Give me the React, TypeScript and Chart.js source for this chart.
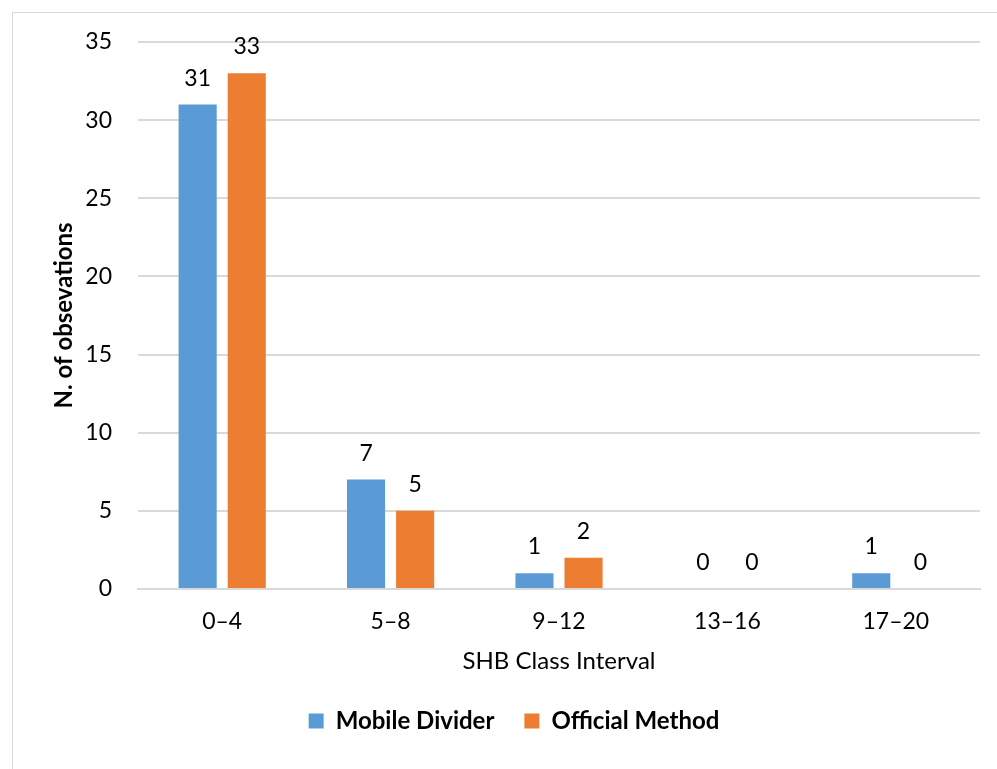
import { useEffect, useRef } from 'react';
import { Chart, registerables } from 'chart.js';

Chart.register(...registerables);

const categories = ['0–4', '5–8', '9–12', '13–16', '17–20'];
const mobileDivider = [31, 7, 1, 0, 1];
const officialMethod = [33, 5, 2, 0, 0];
const seriesNames = ['Mobile Divider', 'Official Method'];
const yMin = 0;
const yMax = 35;
const yStep = 5;
const xTitle = 'SHB Class Interval';
const yTitle = 'N. of obsevations';

const FONT = 'Lato, "Open Sans", sans-serif';

const barLabels = {
  id: 'barLabels',
  afterDatasetsDraw(chart: any) {
    const ctx = chart.ctx;
    ctx.save();
    ctx.font = `23px ${FONT}`;
    ctx.fillStyle = '#000';
    ctx.textAlign = 'center';
    ctx.textBaseline = 'alphabetic';
    chart.data.datasets.forEach((ds: any, i: number) => {
      const meta = chart.getDatasetMeta(i);
      meta.data.forEach((el: any, j: number) => {
        ctx.fillText(String(ds.data[j]), el.x, el.y - 19);
      });
    });
    ctx.restore();
  },
};

export default function App() {
  const ref = useRef<HTMLCanvasElement>(null);
  useEffect(() => {
    if (!ref.current) return;
    const chart = new Chart(ref.current, {
      type: 'bar',
      data: {
        labels: categories,
        datasets: [
          {
            label: seriesNames[0],
            data: mobileDivider,
            backgroundColor: '#5B9BD5',
            categoryPercentage: 0.583,
            barPercentage: 0.776,
          },
          {
            label: seriesNames[1],
            data: officialMethod,
            backgroundColor: '#ED7D31',
            categoryPercentage: 0.583,
            barPercentage: 0.776,
          },
        ],
      },
      options: {
        responsive: false,
        animation: false,
        layout: { padding: { left: 48, right: 17, top: 42, bottom: 26 } },
        plugins: {
          legend: {
            position: 'bottom',
            labels: {
              boxWidth: 15,
              boxHeight: 15,
              padding: 30,
              color: '#000',
              font: { family: FONT, size: 24, weight: 'bold' },
            },
          },
          tooltip: { enabled: false },
        },
        scales: {
          x: {
            grid: { display: false, drawTicks: false },
            border: { display: true, color: '#D9D9D9', width: 2 },
            ticks: { color: '#000', padding: 19, font: { family: FONT, size: 23 } },
            title: {
              display: true,
              text: xTitle,
              color: '#000',
              font: { family: FONT, size: 24 },
              padding: { top: 4, bottom: 3 },
            },
            afterFit: (s: any) => {
              s.height = 90;
            },
          },
          y: {
            min: yMin,
            max: yMax,
            ticks: { stepSize: yStep, color: '#000', padding: 26, font: { family: FONT, size: 23 } },
            grid: { color: '#D9D9D9', lineWidth: 2, drawTicks: false },
            border: { display: false },
            title: {
              display: true,
              text: yTitle,
              color: '#000',
              font: { family: FONT, size: 24, weight: 'bold' },
              padding: { top: 2, bottom: 4 },
            },
            afterFit: (s: any) => {
              s.width = 90;
            },
          },
        },
      },
      plugins: [barLabels],
    });
    return () => chart.destroy();
  }, []);
  return (
    <>
      <div
        style={{
          position: 'absolute',
          left: 12,
          top: 12,
          width: 990,
          height: 760,
          borderLeft: '1px solid #D9D9D9',
          borderTop: '1px solid #D9D9D9',
          boxSizing: 'border-box',
        }}
      />
      <canvas
        ref={ref}
        width={997}
        height={769}
        style={{ position: 'absolute', left: 0, top: 0, width: 997, height: 769 }}
      />
    </>
  );
}
